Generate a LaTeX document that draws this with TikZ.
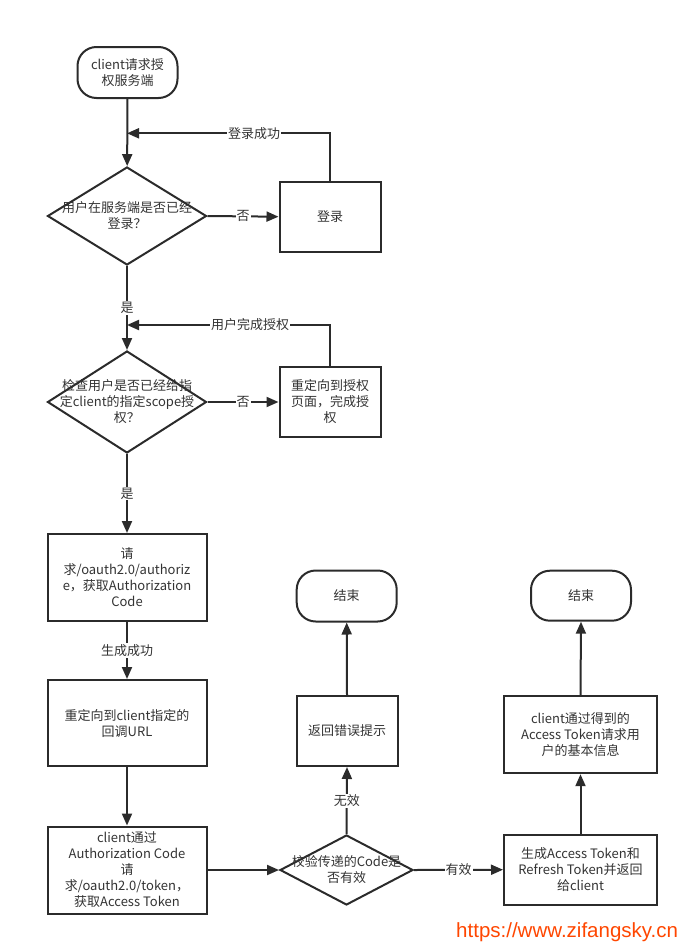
\documentclass[tikz,border=0pt]{standalone}
\usepackage{fontspec}
\setmainfont{Noto Sans CJK SC}
\newfontfamily\wmfont{Liberation Sans}
\usetikzlibrary{shapes.geometric,arrows.meta}
\definecolor{ln}{HTML}{2B2B2B}
\definecolor{tx}{HTML}{333333}
\definecolor{wm}{RGB}{255,70,0}
\begin{document}
\begin{tikzpicture}[x=1pt,y=-1pt,
  every node/.style={font=\fontsize{13}{16}\selectfont, text=tx},
  box/.style={draw=ln, line width=2pt, rectangle, inner sep=0pt, align=center},
  term/.style={box, rounded corners=19pt},
  dia/.style={draw=ln, line width=2pt, diamond, inner xsep=-40pt, inner ysep=-20pt, align=center},
  arr/.style={draw=ln, line width=2pt, -{Triangle[length=12pt,width=10pt]}},
  lbl/.style={fill=white, inner sep=1pt},
]
\useasboundingbox (0,0) rectangle (689,945);

\node[term, minimum width=100pt, minimum height=51pt] (start) at (127.5,72.5) {client请求授\\权服务端};
\node[dia, minimum width=159pt, minimum height=98pt] (d1) at (127,216) {用户在服务端是否已经\\登录？};
\node[box, minimum width=101pt, minimum height=70pt] (login) at (330,216.7) {登录};
\node[dia, minimum width=159pt, minimum height=102pt] (d2) at (127,402) {检查用户是否已经给指\\定client的指定scope授\\权？};
\node[box, minimum width=101pt, minimum height=70pt] (redir) at (330,402) {重定向到授权\\页面，完成授\\权};
\node[box, minimum width=159pt, minimum height=87pt] (auth) at (127,577.5) {请\\求/oauth2.0/authoriz\\e，获取Authorization\\Code};
\node[box, minimum width=159pt, minimum height=86pt] (rc) at (127,723) {重定向到client指定的\\回调URL};
\node[box, minimum width=159pt, minimum height=87pt] (code) at (127,870) {client通过\\Authorization Code\\请\\求/oauth2.0/token，\\获取Access Token};
\node[dia, minimum width=133pt, minimum height=70pt] (d3) at (346.5,870) {校验传递的Code是\\否有效};
\node[box, minimum width=101pt, minimum height=70pt] (err) at (347,731) {返回错误提示};
\node[term, minimum width=100pt, minimum height=51pt] (end1) at (346.7,596) {结束};
\node[box, minimum width=153pt, minimum height=70pt] (gen) at (580.5,869.7) {生成Access Token和\\Refresh Token并返回\\给client};
\node[box, minimum width=153pt, minimum height=77pt] (info) at (580.5,734.7) {client通过得到的\\Access Token请求用\\户的基本信息};
\node[term, minimum width=100pt, minimum height=50pt] (end2) at (581,595.7) {结束};

\coordinate (j1) at (127,133.3);
\coordinate (j2) at (127,325);

\draw[arr] (start) -- (d1);
\draw[arr] (login.north) |- (j1) node[lbl, pos=0.687] {登录成功};
\draw[arr] (d1.east) -- (login.west) node[lbl, midway] {否};
\draw[arr] (d1.south) -- (d2.north) node[lbl, midway] {是};
\draw[arr] (redir.north) |- (j2) node[lbl, pos=0.697] {用户完成授权};
\draw[arr] (d2.east) -- (redir.west) node[lbl, midway] {否};
\draw[arr] (d2.south) -- (auth.north) node[lbl, midway] {是};
\draw[arr] (auth.south) -- (rc.north) node[lbl, midway] {生成成功};
\draw[arr] (rc.south) -- (code.north);
\draw[arr] (code.east) -- (d3.west);
\draw[arr] (d3.north) -- (err.south) node[lbl, midway] {无效};
\draw[arr] (err.north) -- (end1.south);
\draw[arr] (d3.east) -- (gen.west) node[lbl, midway] {有效};
\draw[arr] (gen.north) -- (info.south);
\draw[arr] (info.north) -- (end2.south);

\node[anchor=base west, inner sep=0pt, font=\wmfont\fontsize{20.5}{24}\selectfont, text=wm] (wm) at (456,937) {https://www.zifangsky.cn};
\end{tikzpicture}
\end{document}
